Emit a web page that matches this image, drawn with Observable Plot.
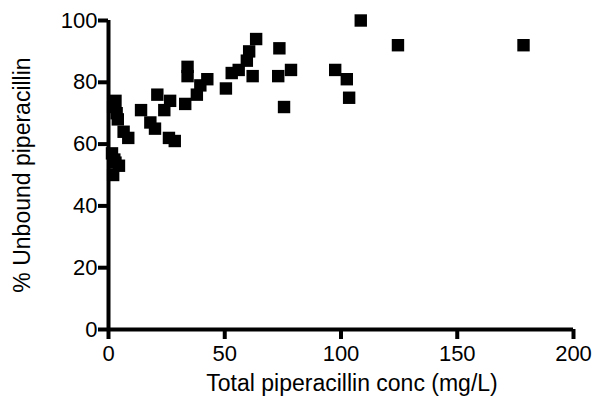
<!DOCTYPE html>
<html>
<head>
<meta charset="utf-8">
<script src="https://cdn.jsdelivr.net/npm/d3@7"></script>
<script src="https://cdn.jsdelivr.net/npm/@observablehq/plot@0.6"></script>
<style>
  html, body { margin: 0; padding: 0; background: #fff; }
  #chart svg { display: block; }
  #chart svg g[aria-label="x-axis tick label"], #chart svg g[aria-label="y-axis tick label"] { font-size: 22px !important; }
  #chart svg g[aria-label="y-axis label"] { font-size: 23px !important; }
  #chart svg g[aria-label="x-axis tick"], #chart svg g[aria-label="y-axis tick"] { stroke-width: 4px !important; }
</style>
</head>
<body>
<div id="chart"></div>
<script>
const totalConc = [1.5, 2.5, 4.5, 2, 3, 3, 2, 3.5, 4, 6.5, 8.5, 14, 18, 20, 21, 24, 26.5, 26, 28.5, 33, 34, 34, 38, 39.5, 42.5, 50.5, 53, 56, 59.5, 60.5, 62, 63.5, 73.5, 73, 75.5, 78.5, 97.5, 102.5, 103.5, 108.5, 124.5, 178.5];
const unboundPct = [57, 55, 53, 50, 54, 74, 72, 70, 68, 64, 62, 71, 67, 65, 76, 71, 74, 62, 61, 73, 85, 82, 76, 79, 81, 78, 83, 84, 87, 90, 82, 94, 91, 82, 72, 84, 84, 81, 75, 100, 92, 92];
const xTicks = [0, 50, 100, 150, 200];
const yTicks = [0, 20, 40, 60, 80, 100];
const xLabel = "Total piperacillin conc (mg/L)";
const yLabel = "% Unbound piperacillin";

const data = totalConc.map((x, i) => ({x, y: unboundPct[i]}));

const chart = Plot.plot({
  width: 593,
  height: 409,
  marginLeft: 108,
  marginRight: 20,
  marginTop: 20,
  marginBottom: 80,
  style: {fontFamily: "'Liberation Sans', Arial, sans-serif", color: "#000", background: "#fff"},
  x: {domain: [0, 200]},
  y: {domain: [0, 100]},
  marks: [
    Plot.axisX({ticks: xTicks, tickSize: 10, strokeWidth: 4, fontSize: 22, tickPadding: 6, label: null}),
    Plot.axisY({ticks: yTicks, tickSize: 10, strokeWidth: 4, fontSize: 22, tickPadding: 1,
      label: yLabel, labelAnchor: "center", labelArrow: "none", labelOffset: 95}),
    Plot.text([xLabel], {text: d => d, frameAnchor: "bottom", lineAnchor: "middle", dy: 54, dx: 11, fontSize: 23, fill: "#000"}),
    Plot.ruleX([0], {strokeWidth: 4}),
    Plot.ruleY([0], {strokeWidth: 4}),
    Plot.dot(data, {x: "x", y: "y", symbol: "square", r: 7, fill: "#000", stroke: "none"})
  ]
});
document.getElementById("chart").append(chart);
</script>
</body>
</html>
